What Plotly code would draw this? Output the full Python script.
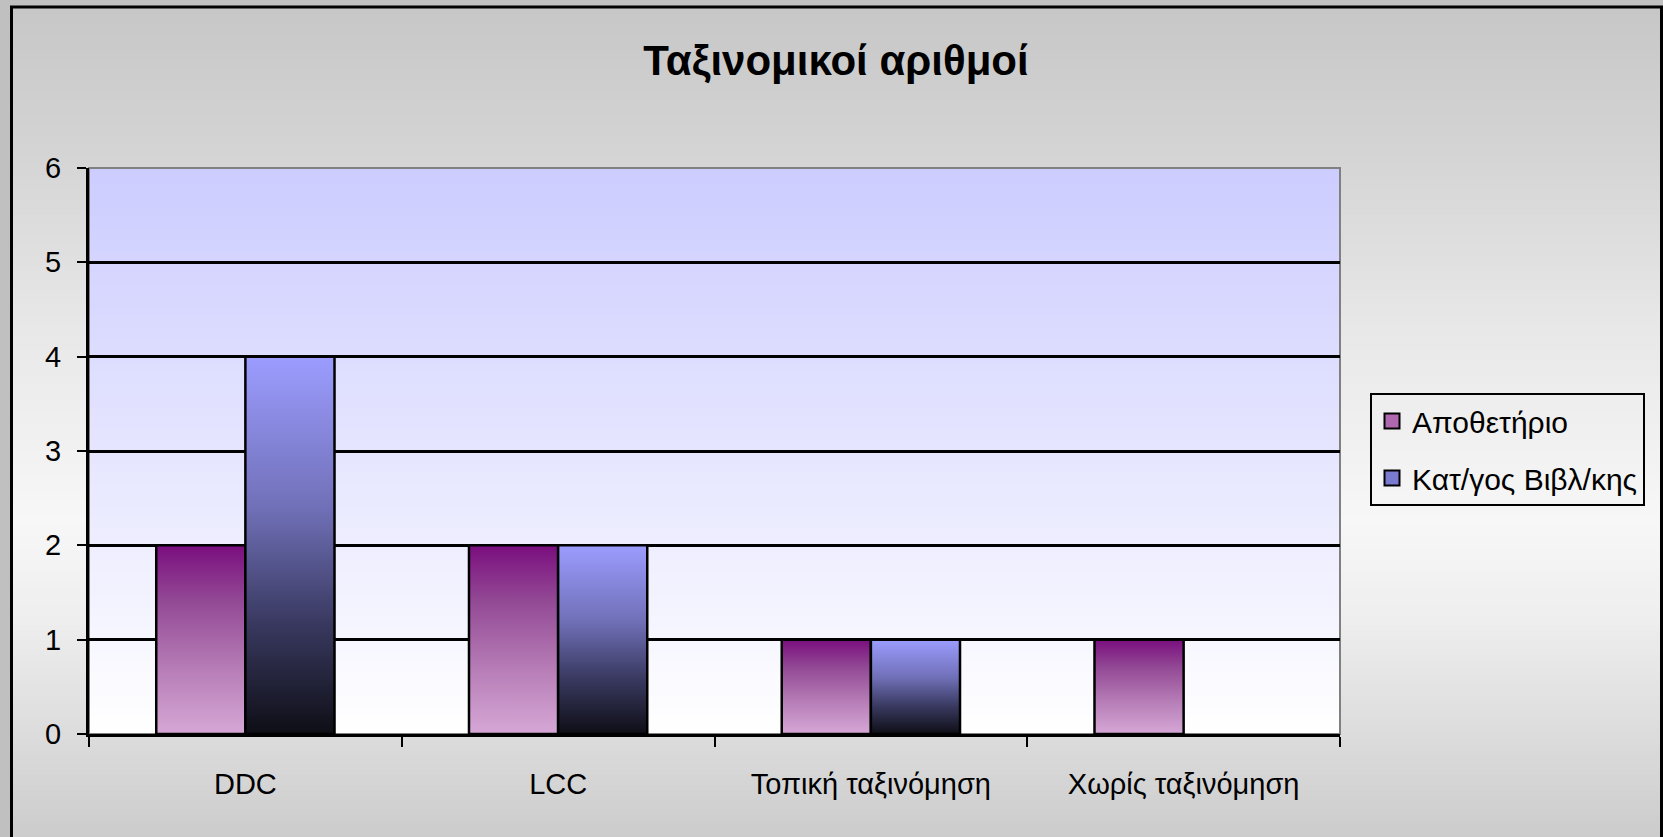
import plotly.graph_objects as go

# ---- data ----
categories = ["DDC", "LCC", "Τοπική ταξινόμηση", "Χωρίς ταξινόμηση"]
series_names = ["Αποθετήριο", "Κατ/γος Βιβλ/κης"]
repo_values = [2, 2, 1, 1]
catalog_values = [4, 2, 1, 0]
y_ticks = [0, 1, 2, 3, 4, 5, 6]
title_text = "Ταξινομικοί αριθμοί"

W, H = 1663, 837
FONT = "Liberation Sans, Arial, sans-serif"

# plot area in pixels
PX0, PX1 = 89, 1340
PY0, PY1 = 168, 734

def hexmix(c1, c2, t):
    a = [int(c1[i:i + 2], 16) for i in (1, 3, 5)]
    b = [int(c2[i:i + 2], 16) for i in (1, 3, 5)]
    return "#%02x%02x%02x" % tuple(round(a[k] + (b[k] - a[k]) * t) for k in range(3))

def grad_color(stops, y):
    for (y0, c0), (y1, c1) in zip(stops, stops[1:]):
        if y0 <= y <= y1:
            return hexmix(c0, c1, (y - y0) / (y1 - y0) if y1 > y0 else 0)
    return stops[-1][1]

shapes = []
# paper background gradient (vertical)
bg_stops = [(0, "#c6c6c6"), (150, "#d4d4d4"), (330, "#e8e8e8"), (520, "#f7f7f7"),
            (620, "#eeeeee"), (837, "#cccccc")]
step = 5
for y in range(0, H, step):
    col = grad_color(bg_stops, y + step / 2)
    shapes.append(dict(type="rect", xref="paper", yref="paper", layer="below",
                       x0=0, x1=1, y0=1 - (y + step + 1) / H, y1=1 - y / H,
                       fillcolor=col, line=dict(width=0)))
# outer grey strip outside frame
shapes.append(dict(type="rect", xref="paper", yref="paper", layer="below",
                   x0=0, x1=11 / W, y0=0, y1=1, fillcolor="#c0c0c0", line=dict(width=0)))
shapes.append(dict(type="rect", xref="paper", yref="paper", layer="below",
                   x0=0, x1=1, y0=1 - 6 / H, y1=1, fillcolor="#c0c0c0", line=dict(width=0)))
# frame
shapes.append(dict(type="rect", xref="paper", yref="paper", layer="below",
                   x0=11.5 / W, x1=1661.5 / W, y0=-0.05, y1=1 - 7 / H,
                   fillcolor="rgba(0,0,0,0)", line=dict(color="black", width=3)))
# plot area gradient (from light lavender at top to white at bottom)
pstep = 4
ph = PY1 - PY0
for y in range(0, ph, pstep):
    t = (y + pstep / 2) / ph
    col = hexmix("#ccccff", "#ffffff", t)
    shapes.append(dict(type="rect", xref="x domain", yref="y domain", layer="below",
                       x0=0, x1=1, y0=max(0, 1 - (y + pstep + 1) / ph), y1=1 - y / ph,
                       fillcolor=col, line=dict(width=0)))
# plot area grey border (top / right)
shapes.append(dict(type="rect", xref="x domain", yref="y domain", layer="below",
                   x0=0, x1=1, y0=0, y1=1, fillcolor="rgba(0,0,0,0)",
                   line=dict(color="#808080", width=2)))

fig = go.Figure()

bar_w = 0.285
offsets = [-bar_w / 2, bar_w / 2]
scales = [
    [[0, "#d6a8d6"], [0.35, "#b67cb6"], [0.7, "#934a95"], [1, "#7a0e7e"]],
    [[0, "#0e0e16"], [0.3, "#3a3a62"], [0.6, "#7070b8"], [1, "#9c9cff"]],
]
legend_cols = ["#b068b0", "#7a7ad0"]
series_values = [repo_values, catalog_values]

for s, (name, vals) in enumerate(zip(series_names, series_values)):
    for i, v in enumerate(vals):
        if not v:
            continue
        c = i + offsets[s]
        fig.add_trace(go.Scatter(
            x=[c - bar_w / 2, c - bar_w / 2, c + bar_w / 2, c + bar_w / 2, c - bar_w / 2],
            y=[0, v, v, 0, 0],
            mode="lines", fill="toself",
            fillgradient=dict(type="vertical", colorscale=scales[s]),
            line=dict(color="black", width=2.5),
            name=name, showlegend=False, legendgroup=name,
            hoveron="fills", text=f"{name}: {categories[i]} = {v}", hoverinfo="text",
        ))
    # legend entry
    fig.add_trace(go.Scatter(
        x=[None], y=[None], mode="markers", name=name, legendgroup=name,
        marker=dict(symbol="square", size=15, color=legend_cols[s],
                    line=dict(color="black", width=2)),
    ))

fig.update_layout(
    template="none",
    width=W, height=H, autosize=False,
    margin=dict(l=0, r=0, t=0, b=0, pad=0),
    paper_bgcolor="#d0d0d0",
    plot_bgcolor="rgba(0,0,0,0)",
    font=dict(family=FONT, color="black", size=28),
    shapes=shapes,
    title=dict(text="<b>" + title_text + "</b>", x=836 / W, xanchor="center",
               y=1 - 60 / H, yanchor="middle", automargin=False,
               font=dict(family=FONT, size=42, color="black")),
    legend=dict(x=1370 / W, y=1 - 393 / H, xanchor="left", yanchor="top",
                bgcolor="rgba(0,0,0,0)", bordercolor="black", borderwidth=2,
                font=dict(size=30, family=FONT), tracegroupgap=15),
    showlegend=True,
    xaxis=dict(
        domain=[PX0 / W, PX1 / W], range=[-0.5, 3.5], automargin=False,
        tickmode="array", tickvals=list(range(len(categories))), ticktext=categories,
        ticks="", showgrid=False, zeroline=False,
        showline=True, linecolor="black", linewidth=3,
        minor=dict(tickmode="linear", tick0=-0.5, dtick=1, ticks="outside",
                   ticklen=10, tickwidth=2, tickcolor="black", showgrid=False),
        ticklabelstandoff=22,
        tickfont=dict(size=29, family=FONT),
        fixedrange=True,
    ),
    yaxis=dict(
        domain=[1 - PY1 / H, 1 - PY0 / H], range=[0, 6], automargin=False,
        tickmode="array", tickvals=y_ticks,
        ticks="outside", ticklen=9, tickwidth=2, tickcolor="black",
        showgrid=True, gridcolor="black", gridwidth=2.5, zeroline=False,
        showline=True, linecolor="black", linewidth=3,
        ticklabelstandoff=10,
        tickfont=dict(size=29, family=FONT),
        fixedrange=True,
    ),
)

fig.write_html(
    "out.html",
    config={"displayModeBar": False},
    post_script="document.body.style.margin='0';document.body.style.background='#c0c0c0';",
)
